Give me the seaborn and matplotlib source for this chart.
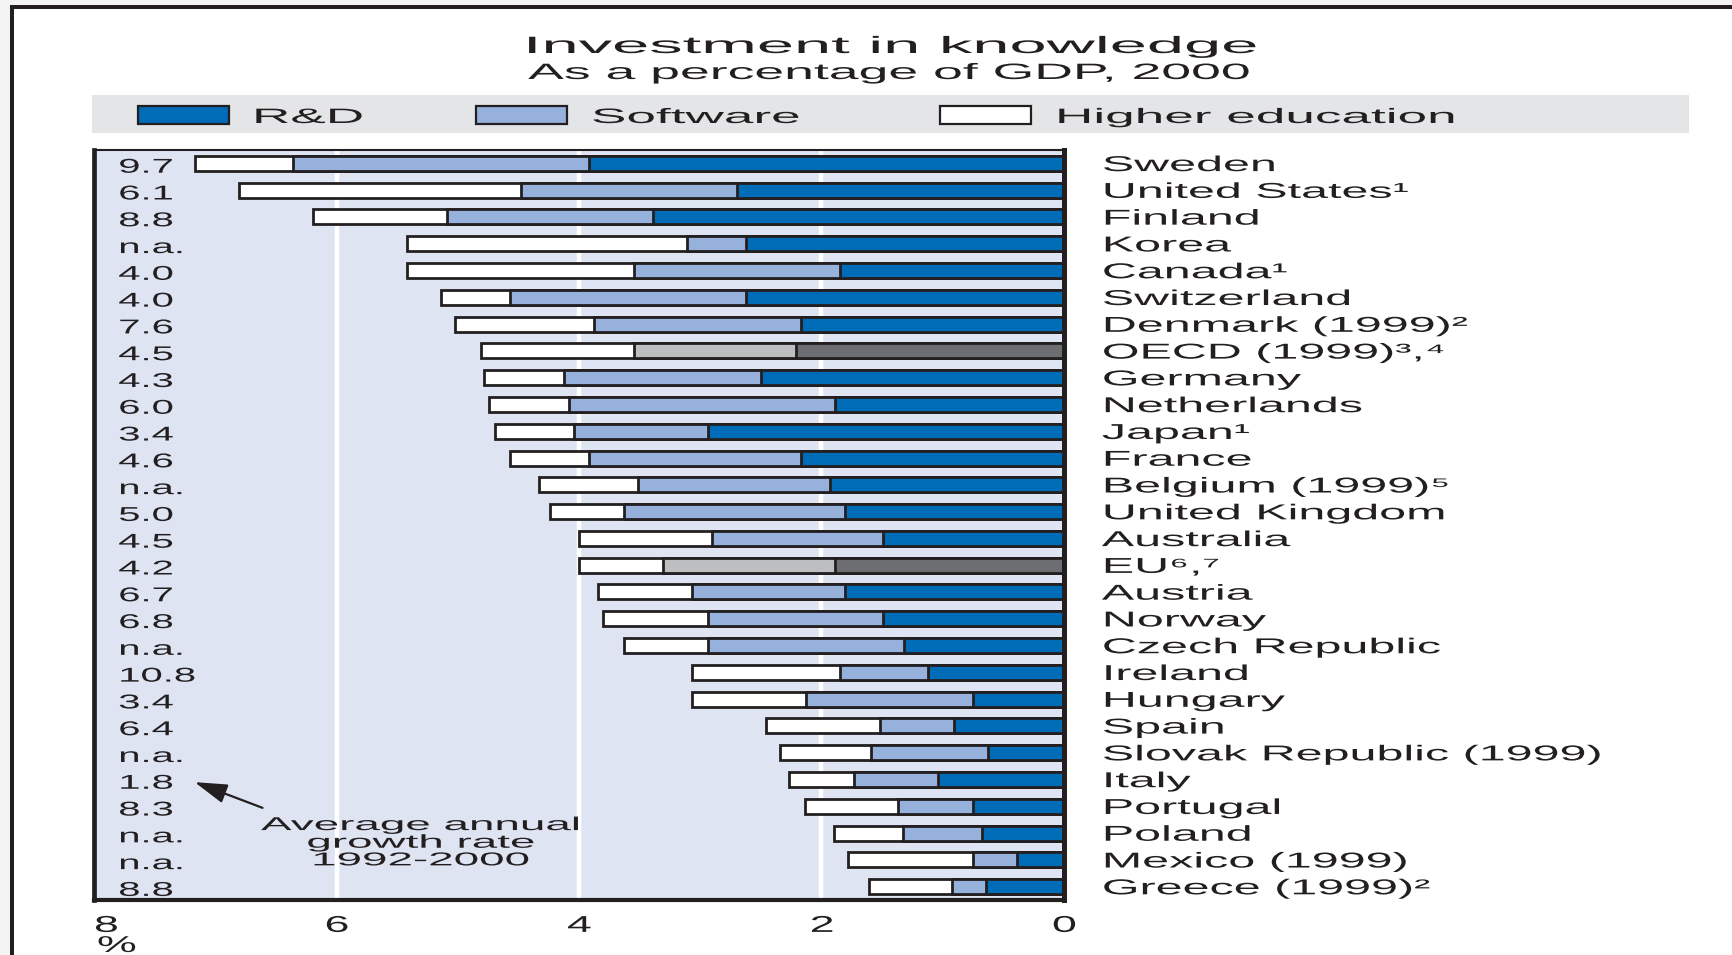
import numpy as np
import pandas as pd
import matplotlib
matplotlib.use("Agg")
import matplotlib.pyplot as plt
import seaborn as sns
from matplotlib.patches import Rectangle
from matplotlib.patheffects import AbstractPathEffect
from matplotlib.transforms import Affine2D, blended_transform_factory, offset_copy

# ---------------- data ----------------
countries = [
    "Sweden", "United States¹", "Finland", "Korea", "Canada¹", "Switzerland",
    "Denmark (1999)²", "OECD (1999)³,⁴", "Germany", "Netherlands", "Japan¹",
    "France", "Belgium (1999)⁵", "United Kingdom", "Australia", "EU⁶,⁷",
    "Austria", "Norway", "Czech Republic", "Ireland", "Hungary", "Spain",
    "Slovak Republic (1999)", "Italy", "Portugal", "Poland", "Mexico (1999)",
    "Greece (1999)²",
]
growth = [
    "9.7", "6.1", "8.8", "n.a.", "4.0", "4.0", "7.6", "4.5", "4.3", "6.0",
    "3.4", "4.6", "n.a.", "5.0", "4.5", "4.2", "6.7", "6.8", "n.a.", "10.8",
    "3.4", "6.4", "n.a.", "1.8", "8.3", "n.a.", "n.a.", "8.8",
]
rd = [3.92, 2.70, 3.39, 2.62, 1.85, 2.62, 2.17, 2.21, 2.50, 1.89, 2.94, 2.17,
      1.93, 1.81, 1.49, 1.89, 1.81, 1.49, 1.32, 1.12, 0.75, 0.91, 0.63, 1.04,
      0.75, 0.68, 0.39, 0.64]
software = [2.44, 1.78, 1.70, 0.49, 1.70, 1.95, 1.71, 1.34, 1.62, 2.19, 1.10,
            1.75, 1.58, 1.82, 1.41, 1.42, 1.26, 1.45, 1.62, 0.73, 1.38, 0.61,
            0.96, 0.69, 0.62, 0.65, 0.36, 0.28]
higher_ed = [0.81, 2.32, 1.10, 2.31, 1.87, 0.57, 1.14, 1.26, 0.66, 0.66, 0.65,
             0.65, 0.82, 0.61, 1.10, 0.69, 0.77, 0.86, 0.69, 1.22, 0.94, 0.94,
             0.75, 0.54, 0.77, 0.57, 1.03, 0.69]
aggregates = ["OECD (1999)³,⁴", "EU⁶,⁷"]
x_ticks = [8, 6, 4, 2, 0]
legend_labels = ["R&D", "Software", "Higher education"]
title = "Investment in knowledge"
subtitle = "As a percentage of GDP, 2000"
note = "Average annual\ngrowth rate\n1992-2000"
unit = "%"

# ---------------- style ----------------
INK = "#231F20"
C_RD, C_SW, C_HE = "#006BB6", "#95B1DC", "#FFFFFF"
C_RD_AGG, C_SW_AGG = "#6D6E72", "#BDBEC0"
PLOT_BG = "#DFE4F2"

sns.set_style("white")
plt.rcParams["font.family"] = ["Liberation Sans", "DejaVu Sans"]
plt.rcParams["text.color"] = INK


class HStretch(AbstractPathEffect):
    """Widen glyph paths horizontally (the source uses very wide tracking)."""

    def __init__(self, sx, anchor="left"):
        super().__init__()
        self._sx = sx
        self._anchor = anchor

    def draw_path(self, renderer, gc, tpath, affine, rgbFace=None):
        v = tpath.vertices
        px = 0.0
        if self._anchor != "left" and len(v):
            x0, x1 = v[:, 0].min(), v[:, 0].max()
            px = (x0 + x1) / 2 if self._anchor == "center" else x1
        tr = Affine2D().translate(-px, 0).scale(self._sx, 1).translate(px, 0) + affine
        renderer.draw_path(gc, tpath, tr, rgbFace)


W, H = 1733, 955
fig = plt.figure(figsize=(W / 100, H / 100), dpi=100)
fig.patch.set_facecolor("#F3F3F3")


def fx(px):
    return px / W


def fy(py):
    return 1 - py / H


def frect(x0, y0, x1, y1, **kw):
    r = Rectangle((fx(x0), fy(y1)), (x1 - x0) / W, (y1 - y0) / H,
                  transform=fig.transFigure, **kw)
    fig.add_artist(r)
    return r


# page frame
frect(10, 5, W, H, facecolor=INK, edgecolor="none", zorder=-20)
frect(14, 9, W, H, facecolor="white", edgecolor="none", zorder=-19)
# legend band
frect(92, 95, 1689, 133, facecolor="#E4E5E7", edgecolor="none", zorder=-18)

# ---------------- axes ----------------
ax = fig.add_axes([fx(94), fy(900), (1064 - 94) / W, (900 - 150) / H])
ax.set_facecolor(PLOT_BG)

df = pd.DataFrame({"country": countries, "rd": rd, "software": software,
                   "higher_ed": higher_ed})
df["cum_sw"] = df["rd"] + df["software"]
df["cum_all"] = df["cum_sw"] + df["higher_ed"]
is_agg = df["country"].isin(aggregates)

pal_he = {c: C_HE for c in countries}
pal_sw = {c: (C_SW_AGG if a else C_SW) for c, a in zip(countries, is_agg)}
pal_rd = {c: (C_RD_AGG if a else C_RD) for c, a in zip(countries, is_agg)}

for col, pal in [("cum_all", pal_he), ("cum_sw", pal_sw), ("rd", pal_rd)]:
    sns.barplot(data=df, x=col, y="country", hue="country", palette=pal,
                order=countries, hue_order=countries, orient="h", width=0.56,
                dodge=False, legend=False, saturation=1, errorbar=None,
                edgecolor=INK, linewidth=2.0, ax=ax)

for v in [2, 4, 6]:
    ax.axvline(v, color="white", lw=3.2, zorder=0.5)

n = len(countries)
ax.set_xlim(8, 0)
ax.set_ylim(n - 0.5, -0.5)
ax.set_xlabel("")
ax.set_ylabel("")
ax.set_yticks([])
ax.set_xticks(x_ticks)
ax.set_xticklabels([str(t) for t in x_ticks])
ax.tick_params(axis="x", length=0, pad=10, labelsize=16.5, labelcolor=INK)
for i, lab in enumerate(ax.get_xticklabels()):
    if i == 0:
        lab.set_ha("left")
        lab.set_path_effects([HStretch(1.95, "left")])
    else:
        lab.set_path_effects([HStretch(1.95, "center")])

for side, lw in {"left": 3.4, "right": 3.6, "bottom": 3.0, "top": 1.5}.items():
    ax.spines[side].set_visible(True)
    ax.spines[side].set_linewidth(lw)
    ax.spines[side].set_color(INK)

# country names on the right
tr_c = offset_copy(blended_transform_factory(ax.transAxes, ax.transData),
                   fig=fig, x=0, y=-7.7, units="dots")
for i, name in enumerate(countries):
    ax.text(1.0390, i, name, transform=tr_c, ha="left", va="baseline",
            fontsize=15.5, color=INK, clip_on=False,
            path_effects=[HStretch(2.25, "left")])

# growth rates inside the plot, left column
tr_g = offset_copy(ax.transData, fig=fig, x=0, y=-9.3, units="dots")
for i, g in enumerate(growth):
    ax.text(7.80, i, g, transform=tr_g, ha="left", va="baseline",
            fontsize=14.4, color=INK, path_effects=[HStretch(2.0, "left")])

# annotation
ax.annotate("", xy=(7.17, 23.1), xytext=(6.61, 24.06),
            arrowprops=dict(arrowstyle="-|>,head_length=1.0,head_width=0.3",
                            color=INK, lw=1.6, mutation_scale=20,
                            shrinkA=0, shrinkB=0))
ax.text(5.31, 25.38, note, ha="center", va="center", multialignment="center",
        fontsize=13.4, linespacing=1.05, color=INK,
        path_effects=[HStretch(2.46, "center")])

# titles
fig.text(fx(890), fy(53), title, ha="center", va="baseline", fontsize=17,
         color=INK, path_effects=[HStretch(2.83, "center")])
fig.text(fx(889), fy(79), subtitle, ha="center", va="baseline", fontsize=16,
         color=INK, path_effects=[HStretch(2.41, "center")])

# legend
leg_boxes = [(138, 229, C_RD), (476, 567, C_SW), (940, 1031, C_HE)]
leg_text_x = [252, 591, 1055]
for (x0, x1, c), tx, lab in zip(leg_boxes, leg_text_x, legend_labels):
    frect(x0, 106, x1, 124, facecolor=c, edgecolor=INK, lw=1.6, zorder=-5)
    fig.text(fx(tx), fy(123), lab, ha="left", va="baseline", fontsize=15,
             color=INK, path_effects=[HStretch(2.55, "left")])

# unit below axis
fig.text(fx(97), fy(952), unit, ha="left", va="baseline", fontsize=16.5,
         color=INK, path_effects=[HStretch(1.95, "left")])

fig.savefig("out.png", dpi=100, facecolor=fig.get_facecolor())
